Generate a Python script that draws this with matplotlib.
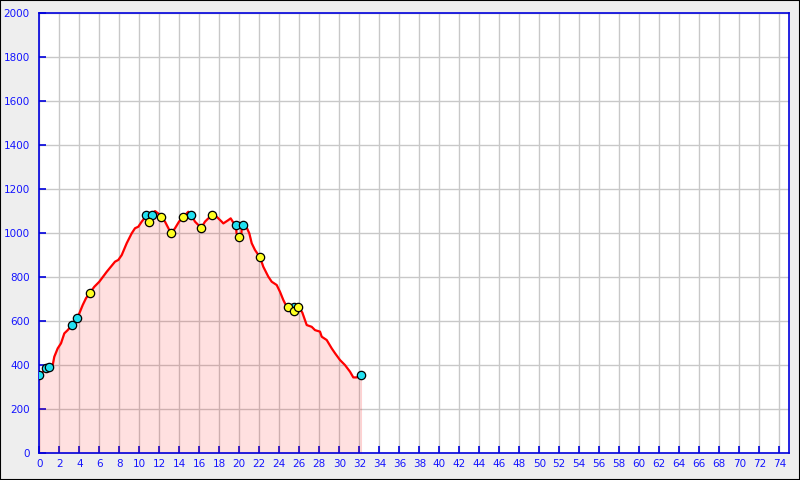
import matplotlib
matplotlib.use("Agg")
import matplotlib.pyplot as plt
from matplotlib.patches import Rectangle

# Elevation profile (distance km, elevation m)
dist = [0.0, 0.67, 1.0, 1.34, 1.5, 1.84, 2.17, 2.5, 2.84, 3.27, 3.77, 4.0, 4.34, 4.67,
        5.07, 5.5, 6.0, 6.74, 7.57, 7.9, 8.24, 8.74, 9.24, 9.57, 9.9, 10.24, 10.67,
        11.3, 11.57, 11.9, 12.14, 12.57, 13.17, 13.57, 13.97, 14.4, 14.9, 15.17, 15.57,
        15.9, 16.17, 16.57, 17.24, 17.74, 18.24, 18.4, 18.67, 18.9, 19.14, 19.34, 19.67,
        19.72, 19.95, 20.2, 20.25, 20.55, 20.7, 21.0, 21.24, 21.57, 22.07, 22.4, 22.9,
        23.24, 23.74, 24.07, 24.4, 24.74, 25.2, 25.6, 26.0, 26.3, 26.74, 27.24, 27.57,
        28.07, 28.24, 28.74, 29.24, 29.57, 30.07, 30.57, 31.07, 31.4, 31.74, 32.17]
elev = [354, 386, 391, 401, 439, 477, 500, 545, 560, 583, 614, 636, 674, 705,
        730, 757, 780, 825, 871, 879, 901, 955, 1000, 1023, 1030, 1053, 1078,
        1088, 1101, 1090, 1075, 1053, 1000, 1023, 1053, 1075, 1098, 1085, 1053,
        1038, 1023, 1053, 1083, 1075, 1053, 1045, 1053, 1060, 1068, 1053, 1038,
        1000, 985, 990, 1035, 1038, 1030, 1000, 955, 924, 891, 848, 803,
        780, 765, 734, 697, 666, 664, 664, 660, 640, 583, 575, 560,
        553, 530, 515, 477, 455, 424, 401, 371, 345, 345, 356]

cyan_x = [0.0, 0.67, 1.0, 3.27, 3.77, 10.67, 11.3, 15.17, 19.67, 20.4, 25.5, 32.17]
cyan_y = [354, 386, 391, 583, 614, 1083, 1083, 1083, 1038, 1038, 664, 356]
yellow_x = [5.07, 11.0, 12.14, 13.17, 14.4, 16.17, 17.24, 20.0, 22.07, 24.9, 25.5, 25.9]
yellow_y = [730, 1050, 1075, 1000, 1075, 1023, 1083, 982, 891, 664, 647, 664]

x_ticks = list(range(0, 75, 2))
y_ticks = list(range(0, 2001, 200))

fig = plt.figure(figsize=(8, 4.8), dpi=100, facecolor="#eeeeee")
fig.patches.append(Rectangle((0, 0), 1, 1, transform=fig.transFigure,
                             fill=False, edgecolor="black", linewidth=1.5))
ax = fig.add_axes([39.3 / 800, (480 - 453.3) / 480, 750 / 800, 440 / 480])
ax.set_facecolor("white")
ax.set_xlim(0, 75)
ax.set_ylim(0, 2000)
ax.set_xticks(x_ticks)
ax.set_yticks(y_ticks)
ax.grid(True, color="#c8c8c8", linewidth=1)
ax.set_axisbelow(True)

blue = "#1414ff"
for s in ax.spines.values():
    s.set_color("#0000dd")
    s.set_linewidth(1.2)
ax.tick_params(axis="both", direction="in", length=5, width=1.2, color="#0000dd",
               labelcolor=blue, labelsize=7.5)
ax.tick_params(axis="y", pad=7)
ax.tick_params(axis="x", pad=4)

ax.fill_between(dist, elev, 0, color="red", alpha=0.12, linewidth=0.8, zorder=2)
ax.plot(dist, elev, color="red", linewidth=1.6, zorder=3)
ax.plot(cyan_x, cyan_y, linestyle="none", marker="o", markersize=6,
        markerfacecolor="#22e0f0", markeredgecolor="black", markeredgewidth=0.9, zorder=4)
ax.plot(yellow_x, yellow_y, linestyle="none", marker="o", markersize=6,
        markerfacecolor="#ffff22", markeredgecolor="black", markeredgewidth=0.9, zorder=4)

fig.savefig("out.png", dpi=100, facecolor=fig.get_facecolor())
